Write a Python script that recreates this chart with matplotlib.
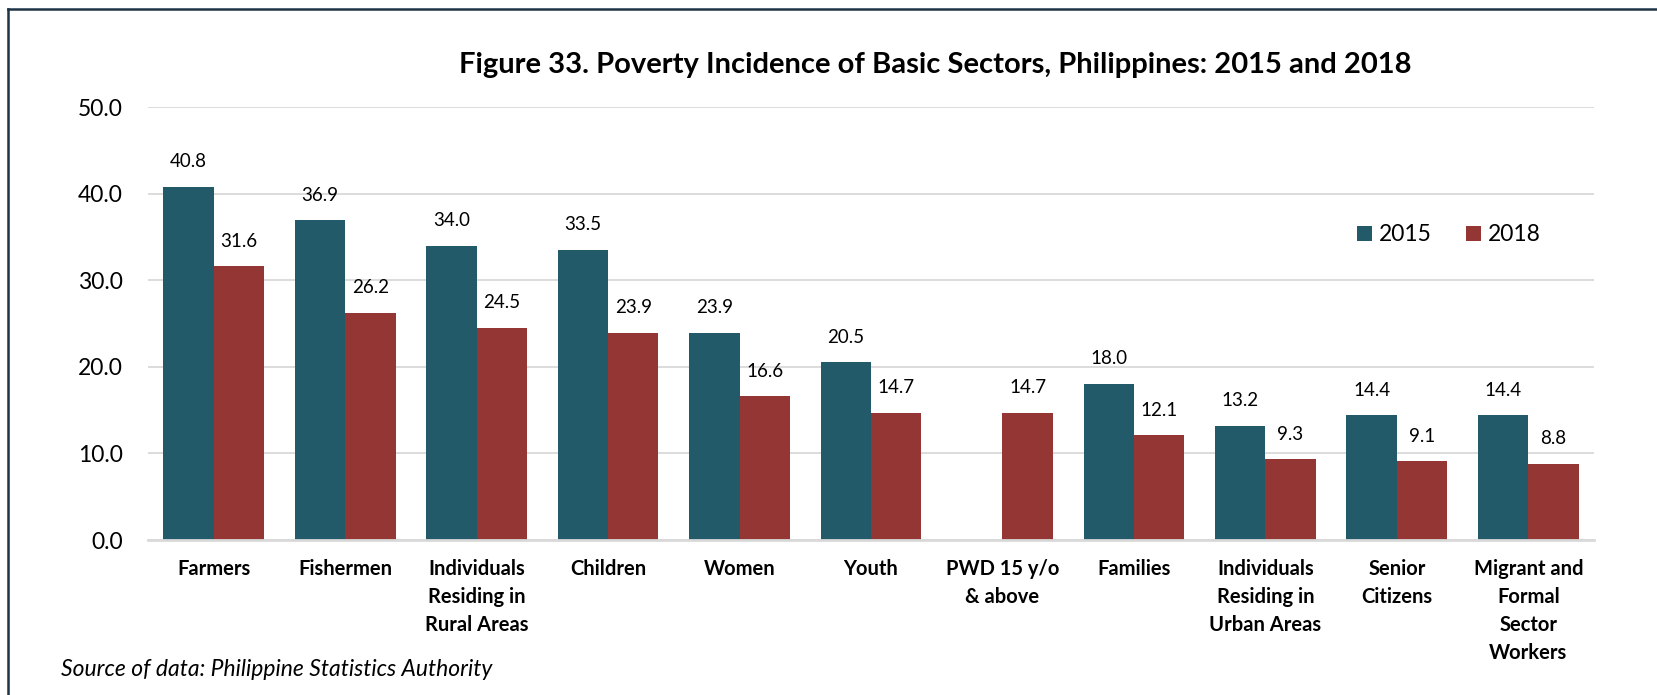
import matplotlib
matplotlib.use("Agg")
import matplotlib.pyplot as plt
from matplotlib.lines import Line2D
import numpy as np

plt.rcParams['font.family'] = ['Lato', 'DejaVu Sans']

# ── DATA ─────────────────────────────────────────────────────────────────────
categories = [
    'Farmers', 'Fishermen', 'Individuals\nResiding in\nRural Areas', 'Children',
    'Women', 'Youth', 'PWD 15 y/o\n& above', 'Families',
    'Individuals\nResiding in\nUrban Areas', 'Senior\nCitizens',
    'Migrant and\nFormal\nSector\nWorkers',
]
series_names = ['2015', '2018']
values_2015 = [40.8, 36.9, 34.0, 33.5, 23.9, 20.5, np.nan, 18.0, 13.2, 14.4, 14.4]
values_2018 = [31.6, 26.2, 24.5, 23.9, 16.6, 14.7, 14.7, 12.1, 9.3, 9.1, 8.8]
y_ticks = [0, 10, 20, 30, 40, 50]

c2015 = '#235a69'
c2018 = '#943634'

fig = plt.figure(figsize=(16.58, 6.95), dpi=100)
ax = fig.add_axes([0.0893, 0.223, 0.9614 - 0.0893, 0.846 - 0.223])

x = np.arange(len(categories))
w = 0.383
b1 = ax.bar(x - w/2, values_2015, w, color=c2015, label=series_names[0])
b2 = ax.bar(x + w/2, values_2018, w, color=c2018, label=series_names[1])

for bars, vals in ((b1, values_2015), (b2, values_2018)):
    for r, v in zip(bars, vals):
        if np.isnan(v):
            continue
        ax.annotate(f'{v:.1f}', (r.get_x() + r.get_width()/2, v),
                    xytext=(0, 12), textcoords='offset points',
                    ha='center', va='bottom', fontsize=13.5)

ax.set_xlim(-0.5, len(categories) - 0.5)
ax.set_ylim(0, 50)
ax.set_yticks(y_ticks)
ax.set_yticklabels([f'{t:.1f}' for t in y_ticks], fontsize=16.5)
ax.set_xticks(x)
ax.set_xticklabels(categories, fontsize=14.5, fontweight='bold', linespacing=1.5,
                   va='top')
ax.tick_params(axis='both', length=0)
ax.tick_params(axis='x', pad=14)
ax.tick_params(axis='y', pad=18)
ax.yaxis.grid(True, color='#d9d9d9', lw=1.3)
ax.set_axisbelow(True)
for s in ('top', 'right', 'left'):
    ax.spines[s].set_visible(False)
ax.spines['bottom'].set_color('#d9d9d9')
ax.spines['bottom'].set_linewidth(2)

leg = ax.legend(loc='upper left', bbox_to_anchor=(0.822, 0.777), ncol=2, frameon=False,
                fontsize=16.5, handlelength=0.65, handleheight=0.65, columnspacing=1.5,
                handletextpad=0.3)

fig.text(935/1658, 1 - 65/695, 'Figure 33. Poverty Incidence of Basic Sectors, Philippines: 2015 and 2018',
         ha='center', va='center', fontsize=21, fontweight='bold')
fig.text(61/1658, 1 - 669/695, 'Source of data: Philippine Statistics Authority',
         ha='left', va='center', fontsize=16.5, style='italic')

# frame lines (left and top)
fig.add_artist(Line2D([8/1658, 8/1658], [0, 1 - 9/695], transform=fig.transFigure,
                      color='#1f3347', lw=1.8))
fig.add_artist(Line2D([8/1658, 1], [1 - 9/695, 1 - 9/695], transform=fig.transFigure,
                      color='#1f3347', lw=1.8))

fig.savefig('out.png', dpi=100)
